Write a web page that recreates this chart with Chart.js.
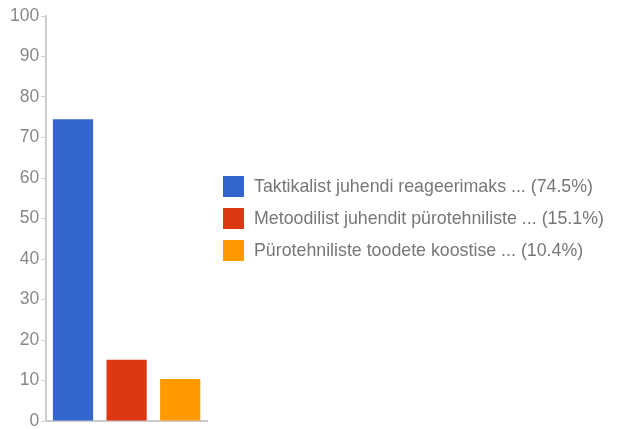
<!DOCTYPE html>
<html>
<head>
<meta charset="utf-8">
<script src="https://cdn.jsdelivr.net/npm/chart.js@4/dist/chart.umd.min.js"></script>
<style>
  body { margin: 0; background: #fff; }
  #wrap { position: relative; width: 627px; height: 429px; }
  #legend { position: absolute; left: 223px; margin: 0; padding: 0; list-style: none;
            font-family: 'Liberation Sans', Arial, sans-serif; font-size: 17.8px; color: #777; }
  #legend li { display: flex; align-items: center; height: 21px; margin-bottom: 11px; white-space: nowrap; }
  #legend li:last-child { margin-bottom: 0; }
  #legend .box { width: 21px; height: 21px; margin-right: 10px; flex: none; }
</style>
</head>
<body>
<div id="wrap">
  <canvas id="answersChart" width="627" height="429"></canvas>
  <ul id="legend"></ul>
</div>
<script>
// Answer options and their shares (%)
const answers = [
  "Taktikalist juhendi reageerimaks ...",
  "Metoodilist juhendit pürotehniliste ...",
  "Pürotehniliste toodete koostise ..."
];
const shares = [74.5, 15.1, 10.4];
const colors = ["#3366cc", "#dc3912", "#ff9900"];
const yTicks = [0, 10, 20, 30, 40, 50, 60, 70, 80, 90, 100];

// one dataset per answer so each gets its own legend entry
let datasets = answers.map((name, i) => ({
  label: name + " (" + shares[i] + "%)",
  data: shares.map((v, j) => (j === i ? v : null)),
  backgroundColor: colors[i],
  borderWidth: 0
}));

// builtin legend can't be wider than half the canvas, so build it in html
const htmlLegend = {
  id: "htmlLegend",
  afterUpdate(chart) {
    let ul = document.getElementById("legend");
    ul.innerHTML = "";
    chart.data.datasets.forEach(ds => {
      ul.innerHTML += `<li><span class="box" style="background:${ds.backgroundColor}"></span>${ds.label}</li>`;
    });
    let mid = (chart.chartArea.top + chart.chartArea.bottom) / 2;
    ul.style.top = (mid - ul.offsetHeight / 2) + "px";
  }
};

let ctx = document.getElementById("answersChart").getContext("2d");
new Chart(ctx, {
  type: "bar",
  data: { labels: answers, datasets: datasets },
  plugins: [htmlLegend],
  options: {
    responsive: false,
    animation: false,
    devicePixelRatio: 1,
    grouped: false,
    categoryPercentage: 1,
    barPercentage: 0.75,
    layout: { padding: { left: 8, top: 16, right: 420, bottom: 7 } },
    plugins: {
      tooltip: { enabled: false },
      legend: { display: false }
    },
    scales: {
      x: {
        ticks: { display: false },
        grid: { display: false },
        border: { color: "#ccc", width: 2 },
        afterFit: axis => { axis.height = 1; }
      },
      y: {
        min: 0,
        max: 100,
        afterBuildTicks: axis => { axis.ticks = yTicks.map(v => ({ value: v })); },
        // let the 0 and 100 labels hang over the padding
        afterFit: axis => { axis.paddingTop = 0; axis.paddingBottom = 0; },
        ticks: {
          color: "#888",
          padding: 2,
          font: { family: "'Liberation Sans', Arial, sans-serif", size: 17.5 }
        },
        grid: { drawOnChartArea: false, tickLength: 5, color: "#ccc" },
        border: { color: "#ccc", width: 2 }
      }
    }
  }
});
</script>
</body>
</html>
